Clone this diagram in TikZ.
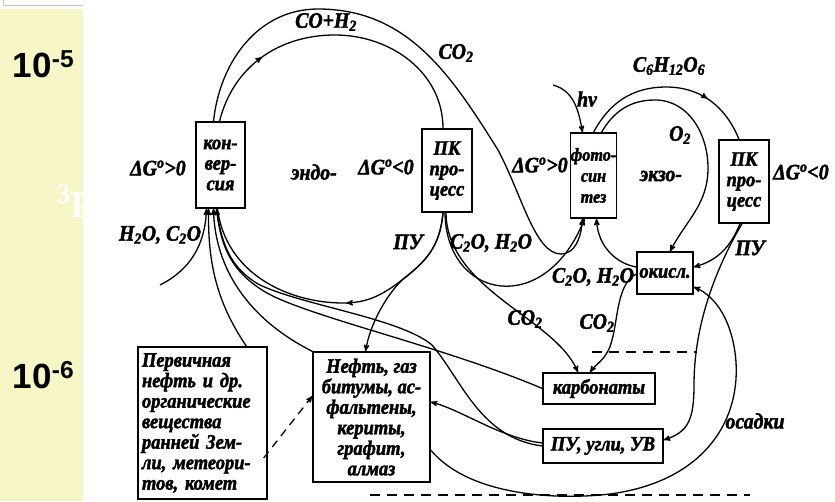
\documentclass[tikz,border=0pt]{standalone}
\usepackage{fontspec}
\setmainfont{Liberation Serif}
\newfontfamily\diagfont{Liberation Serif}[FakeStretch=0.9,FakeBold=2]
\newfontfamily\scalefont{Liberation Sans}
\usetikzlibrary{arrows,decorations.markings}
\definecolor{paleyellow}{RGB}{247,246,198}
\tikzset{midarrow/.style={postaction={decorate},
    decoration={markings,mark=at position #1 with {\arrow{stealth'}}}}}

\begin{document}
\begin{tikzpicture}[x=1pt,y=-1pt,>=stealth',line width=1.3pt]
    \tikzstyle{every node}=[font=\diagfont\bfseries\itshape\fontsize{22}{22}\selectfont]
    \tikzstyle{box}=[draw, rectangle, inner sep=0pt, align=center,
                     font=\diagfont\bfseries\itshape\fontsize{20.5}{20.5}\selectfont]
    \tikzstyle{scale label}=[font=\scalefont\bfseries\fontsize{35}{35}\selectfont, anchor=base west]
    \tikzstyle{level}=[dash pattern=on 10pt off 7pt]

    \useasboundingbox (0,0) rectangle (835,501);
    \fill[paleyellow] (0,9) rectangle (83,501);
    \draw[gray!50, line width=0.8pt] (3,0) |- (83,5);

    \node[scale label] (e5) at (9,77) {10\textsuperscript{-5}};
    \node[scale label] (e6) at (9,388) {10\textsuperscript{-6}};
    \node[white, anchor=base west, inner sep=0pt, font=\bfseries\fontsize{38}{38}\selectfont] (title) at (56,217)
        {\raisebox{14pt}{\fontsize{28}{28}\selectfont 3}Р};

    % boxes
    \node[box, minimum width=49, minimum height=86] (konv) at (220.5,165) {кон-\\вер-\\сия};
    \node[box, minimum width=50, minimum height=83] (pk1) at (447,170.5) {ПК\\про-\\цесс};
    \node[box, minimum width=45, minimum height=85,
          font=\diagfont\bfseries\itshape\fontsize{18}{21}\selectfont] (foto) at (593.5,175.5) {фото-\\син\\тез};
    \node[box, minimum width=50, minimum height=83] (pk2) at (744,181.5) {ПК\\про-\\цесс};
    \node[box, minimum width=56, minimum height=42] (okis) at (665,273) {окисл.};
    \node[box, minimum width=112, minimum height=31] (karb) at (599,388.5) {карбонаты};
    \node[box, minimum width=120, minimum height=34] (puv) at (603,446) {ПУ, угли, УВ};
    \node[box, minimum width=117, minimum height=130] (neft) at (371.5,417)
        {Нефть, газ\\битумы, ас-\\фальтены,\\кериты,\\графит,\\алмаз};
    \node[box, align=left, text width=121, inner sep=4pt, minimum height=152] (perv) at (202.5,423)
        {Первичная\\нефть и др.\\органические\\вещества\\ранней Зем-\\ли, метеори-\\тов, комет};

    % labels
    \node (dg1) at (158,168) {ΔG\textsuperscript{o}>0};
    \node (inp) at (160,235) {H\textsubscript{2}O, C\textsubscript{2}O};
    \node (coh) at (326,22) {CO+H\textsubscript{2}};
    \node (co2a) at (456,53) {CO\textsubscript{2}};
    \node (endo) at (314,172) {эндо-};
    \node (dg2) at (386,167) {ΔG\textsuperscript{o}<0};
    \node (dg3) at (540,165) {ΔG\textsuperscript{o}>0};
    \node (hnu) at (587,99) {hν};
    \node (gluc) at (669,66) {C\textsubscript{6}H\textsubscript{12}O\textsubscript{6}};
    \node (o2) at (680,135) {O\textsubscript{2}};
    \node (ekzo) at (661,176) {экзо-};
    \node (dg4) at (801,172) {ΔG\textsuperscript{o}<0};
    \node (pu1) at (408,242) {ПУ};
    \node (cw1) at (491,243) {C\textsubscript{2}O, H\textsubscript{2}O};
    \node (cw2) at (593,277) {C\textsubscript{2}O, H\textsubscript{2}O};
    \node (co2b) at (525,319) {CO\textsubscript{2}};
    \node (co2c) at (597,323) {CO\textsubscript{2}};
    \node (pu2) at (750,248) {ПУ};
    \node (osad) at (755,421) {осадки};

    % left cycle
    \draw[midarrow=0.25] ([xshift=-1pt]konv.north) to[out=76,in=180] (335,35)
        to[out=0,in=90] ([xshift=-4pt]pk1.north);
    \draw[->] ([xshift=-7pt]konv.north) to[out=84,in=180] (318,9) to[out=0,in=122] (498,150)
        .. controls (522,195) and (535,254) .. (561,254)
        .. controls (575,254) and (581,238) .. ([xshift=-11pt]foto.south);
    \draw[midarrow=0.45] ([xshift=-4pt]pk1.south) .. controls +(-3,35) and (425,262) .. (402,280)
        .. controls (380,297) and (365,303) .. (343,303)
        .. controls (290,303) and (226,275) .. ([xshift=-3pt]konv.south);
    \draw[->] ([xshift=-4pt]pk1.south) .. controls +(-3,35) and (425,262) .. (402,280)
        .. controls (385,297) and (370,325) .. ([xshift=-6pt]neft.north);
    \draw[->] ([xshift=-2pt]pk1.south) .. controls (446,300) and (545,318) .. ([xshift=-9pt]foto.south);
    \draw[->] ([xshift=-1pt]pk1.south) .. controls (447,290) and (555,318) .. ([xshift=-21pt]karb.north);

    % inputs to conversion
    \coordinate (water) at (160,285);
    \draw[->] (water) .. controls (190,270) and (205,245) .. ([xshift=-14pt]konv.south);
    \draw[->] ([xshift=44pt]perv.north) .. controls (215,300) and (208,260) .. ([xshift=-12pt]konv.south);
    \draw[->] (neft.north west) .. controls (250,320) and (215,270) .. ([xshift=-7pt]konv.south);
    \draw[->] (karb.west) .. controls (440,345) and (300,315) .. (262,290)
        .. controls (234,272) and (221,250) .. ([xshift=-4pt]konv.south);
    \draw (puv.west) .. controls (480,438) and (462,380) .. (432,345)
        .. controls (400,318) and (300,305) .. (258,284)
        .. controls (232,268) and (222,248) .. ([xshift=-4pt]konv.south);

    % right cycle
    \coordinate (sun) at (553,85);
    \draw[->] (sun) to[out=-15,in=100] ([xshift=-11pt]foto.north);
    \draw[midarrow=0.72] (foto.north) to[out=62,in=180] (666,87)
        to[out=0,in=112] ([xshift=-5pt]pk2.north);
    \draw[->] ([xshift=8pt]foto.north) to[out=60,in=180] (655,100) to[out=0,in=90] (708,168)
        to[out=-90,in=62] ([xshift=5pt]okis.north);
    \draw[->] ([xshift=-4pt]pk2.south) to[out=-112,in=15] ([yshift=6pt]okis.east);
    \draw[->] ([xshift=-2pt]pk2.south) .. controls (712,275) and (694,330) .. (694,385)
        .. controls (694,420) and (688,432) .. ([yshift=6pt]puv.east);
    \draw[->] ([yshift=6pt]okis.west) .. controls (618,264) and (598,248) .. ([xshift=3pt]foto.south);
    \draw[->] ([yshift=-1pt]okis.west) .. controls (614,285) and (619,330) .. (608,351)
        .. controls (602,362) and (595,365) .. ([xshift=-9pt]karb.north);

    % sediments
    \draw[->] ([yshift=-33pt]neft.east) .. controls (470,497) and (560,500) .. (610,494)
        .. controls (700,482) and (740,425) .. (736,362)
        .. controls (733,322) and (716,296) .. ([yshift=-14pt]okis.east);
    \draw[->] ([yshift=3pt]puv.west) .. controls (500,438) and (462,410) .. ([yshift=15pt]neft.east);
    \draw[dash pattern=on 8pt off 6pt, ->] ([xshift=-4pt,yshift=-35pt]perv.east) -- ([yshift=21pt]neft.west);

    % levels
    \draw[level] (592,352) -- (697,352);
    \draw[level] (370,495) -- (750,495);
\end{tikzpicture}
\end{document}
